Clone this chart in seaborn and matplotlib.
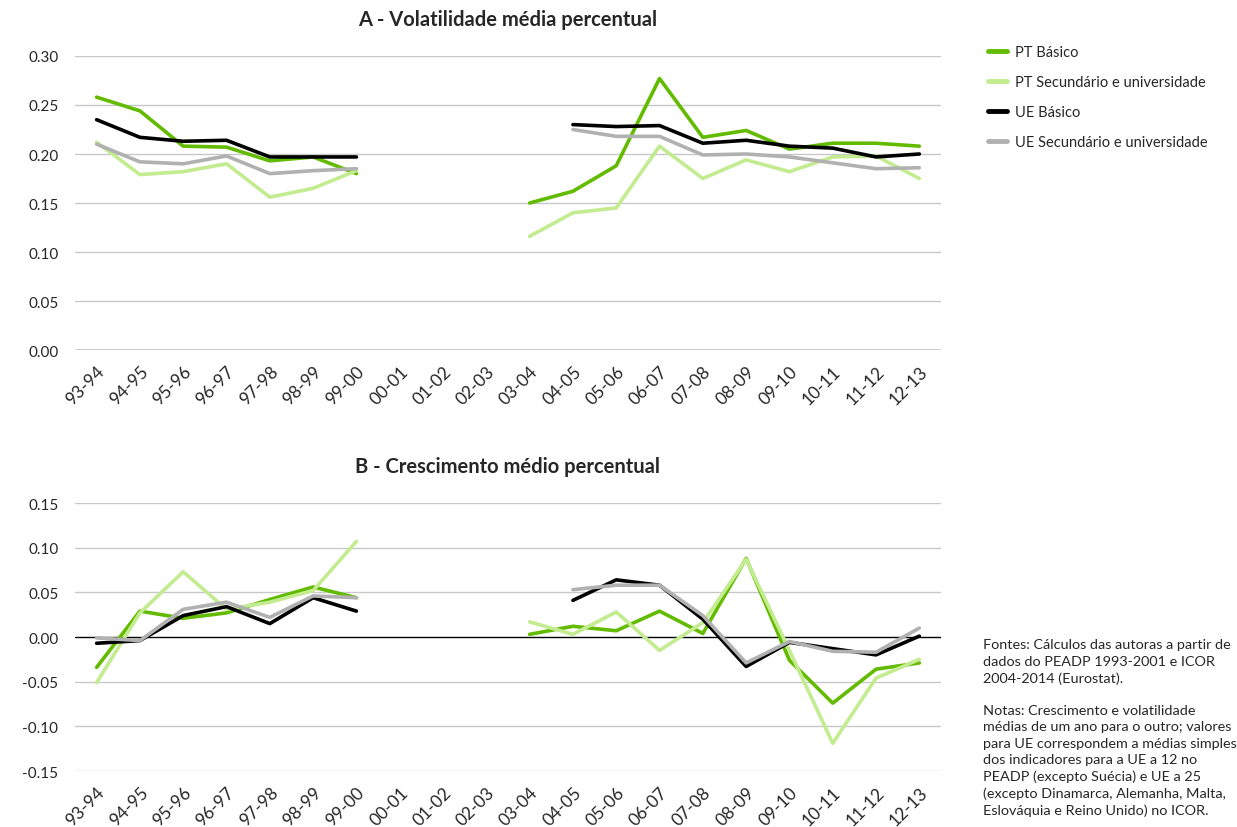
import numpy as np
import pandas as pd
import matplotlib
matplotlib.use('Agg')
import matplotlib.pyplot as plt
import matplotlib.transforms as mtrans
import seaborn as sns

# categorias (anos lectivos) e series
anos = ['93-94', '94-95', '95-96', '96-97', '97-98', '98-99', '99-00', '00-01', '01-02', '02-03',
        '03-04', '04-05', '05-06', '06-07', '07-08', '08-09', '09-10', '10-11', '11-12', '12-13']
series = ['PT Básico', 'PT Secundário e universidade', 'UE Básico', 'UE Secundário e universidade']
cores = ['#63bb00', '#c3eb8f', '#000000', '#b1b1b1']
n = np.nan

# A - volatilidade media
vol_pt_basico = [0.258, 0.244, 0.208, 0.207, 0.193, 0.197, 0.180, n, n, n,
                 0.150, 0.162, 0.188, 0.277, 0.217, 0.224, 0.205, 0.211, 0.211, 0.208]
vol_pt_sec = [0.212, 0.179, 0.182, 0.190, 0.156, 0.165, 0.183, n, n, n,
              0.116, 0.140, 0.145, 0.208, 0.175, 0.194, 0.182, 0.197, 0.198, 0.175]
vol_ue_basico = [0.235, 0.217, 0.213, 0.214, 0.197, 0.197, 0.197, n, n, n,
                 n, 0.230, 0.228, 0.229, 0.211, 0.214, 0.208, 0.206, 0.197, 0.200]
vol_ue_sec = [0.210, 0.192, 0.190, 0.198, 0.180, 0.183, 0.185, n, n, n,
              n, 0.225, 0.218, 0.218, 0.199, 0.200, 0.197, 0.191, 0.185, 0.186]

# B - crescimento medio
cre_pt_basico = [-0.034, 0.029, 0.021, 0.027, 0.042, 0.056, 0.044, n, n, n,
                 0.003, 0.012, 0.007, 0.029, 0.004, 0.088, -0.026, -0.074, -0.036, -0.029]
cre_pt_sec = [-0.051, 0.027, 0.073, 0.031, 0.039, 0.052, 0.107, n, n, n,
              0.017, 0.003, 0.028, -0.015, 0.016, 0.087, -0.015, -0.119, -0.046, -0.025]
cre_ue_basico = [-0.007, -0.004, 0.024, 0.034, 0.015, 0.044, 0.029, n, n, n,
                 n, 0.041, 0.064, 0.058, 0.020, -0.033, -0.006, -0.013, -0.020, 0.001]
cre_ue_sec = [-0.001, -0.004, 0.031, 0.039, 0.022, 0.046, 0.044, n, n, n,
              n, 0.053, 0.058, 0.058, 0.024, -0.029, -0.005, -0.016, -0.017, 0.010]


def long_df(valores):
    rows = []
    for s, v in zip(series, valores):
        for i, (ano, y) in enumerate(zip(anos, v)):
            rows.append({'pos': i, 'ano': ano, 'serie': s, 'valor': y,
                         'periodo': 1 if i < 7 else 2})
    return pd.DataFrame(rows).dropna()


df_a = long_df([vol_pt_basico, vol_pt_sec, vol_ue_basico, vol_ue_sec])
df_b = long_df([cre_pt_basico, cre_pt_sec, cre_ue_basico, cre_ue_sec])

sns.set_style('white')
plt.rcParams['font.family'] = ['Lato', 'DejaVu Sans']

fig = plt.figure(figsize=(12.37, 8.28), dpi=100)
ax_a = fig.add_axes([0.0606, 0.576, 0.7001, 0.3552])
ax_b = fig.add_axes([0.0606, 0.0676, 0.7001, 0.3237])

paleta = dict(zip(series, cores))


def desenha(ax, df, ylim, titulo, legenda):
    sns.lineplot(data=df, x='pos', y='valor', hue='serie', units='periodo', estimator=None,
                 palette=paleta, hue_order=series, linewidth=2.6, ax=ax, legend=legenda)
    ax.set_xlim(-0.5, len(anos) - 0.5)
    ax.set_ylim(*ylim)
    ticks = np.arange(ylim[0], ylim[1] + 0.001, 0.05)
    ax.set_yticks(ticks)
    ax.set_yticklabels([f'{t:.2f}' if abs(t) > 1e-9 else '0.00' for t in ticks], fontsize=11)
    for t in ticks:
        if abs(t) < 1e-9:
            ax.axhline(0, color='black', lw=1.0, zorder=1)
        else:
            ax.axhline(t, color='#c8c8c8', lw=1.0, zorder=0)
    ax.set_xticks(range(len(anos)))
    ax.set_xticklabels(anos, rotation=45, ha='right', rotation_mode='anchor', fontsize=12.5)
    off = mtrans.ScaledTranslation(14 / 100, 0, fig.dpi_scale_trans)
    for lab in ax.get_xticklabels():
        lab.set_transform(lab.get_transform() + off)
    ax.tick_params(axis='both', length=0, pad=12)
    ax.tick_params(axis='x', pad=9)
    for sp in ax.spines.values():
        sp.set_visible(False)
    ax.set_xlabel('')
    ax.set_ylabel('')
    ax.set_title(titulo, fontsize=14.5, fontweight='bold', pad=22)


desenha(ax_a, df_a, (0.0, 0.30), 'A - Volatilidade média percentual', True)
desenha(ax_b, df_b, (-0.15, 0.15), 'B - Crescimento médio percentual', False)

handles, labels = ax_a.get_legend_handles_labels()
ax_a.get_legend().remove()
for h in handles:
    h.set_linewidth(3.5)
fig.legend(handles, labels, loc='upper left', bbox_to_anchor=(0.788, 0.96), frameon=False,
           fontsize=10.5, handlelength=1.3, handletextpad=0.55, labelspacing=1.1)

fig.text(0.795, 0.228, 'Fontes: Cálculos das autoras a partir de\n'
         'dados do PEADP 1993-2001 e ICOR\n2004-2014 (Eurostat).\n\n'
         'Notas: Crescimento e volatilidade\n'
         'médias de um ano para o outro; valores\n'
         'para UE correspondem a médias simples\n'
         'dos indicadores para a UE a 12 no\n'
         'PEADP (excepto Suécia) e UE a 25\n'
         '(excepto Dinamarca, Alemanha, Malta,\n'
         'Eslováquia e Reino Unido) no ICOR.',
         fontsize=10.4, va='top', ha='left', linespacing=1.43)

fig.savefig('out.png', dpi=100)
